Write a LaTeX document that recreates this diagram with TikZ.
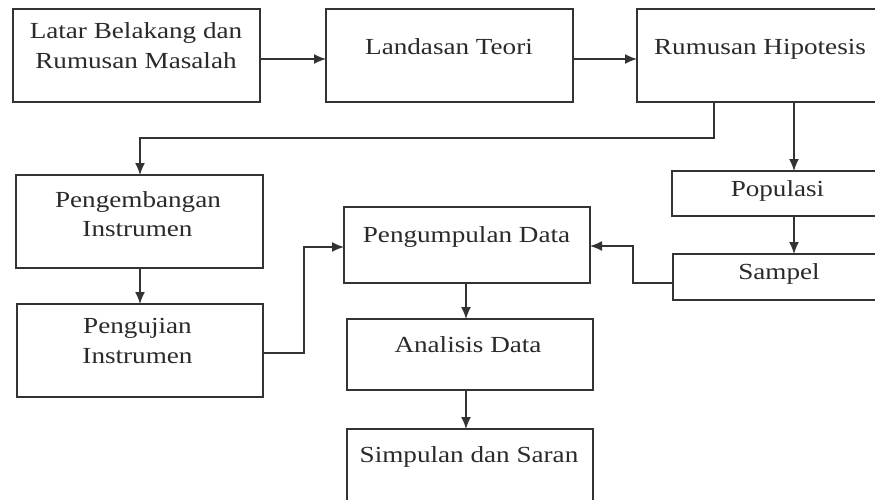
\documentclass[tikz,border=0pt]{standalone}
\usepackage{fontspec}
\setmainfont{Liberation Serif}[FakeStretch=1.18]
\usetikzlibrary{arrows.meta}
\definecolor{ink}{HTML}{333333}
\definecolor{txt}{HTML}{2A2A2A}
\begin{document}
\begin{tikzpicture}[x=1pt,y=-1pt,
  box/.style={draw=ink, line width=1.5pt, rectangle, inner sep=0pt, outer sep=0pt, fill=none},
  lbl/.style={anchor=base, inner sep=0pt, text=txt, font=\fontsize{23}{27}\selectfont},
  arr/.style={draw=ink, line width=1.5pt, -{Latex[length=12pt,width=10pt]}}]
\useasboundingbox[fill=white] (0,0) rectangle (875,499);
% boxes
\node[box, minimum width=247pt, minimum height=93pt] (b1) at (136.5,55.5) {};
\node[box, minimum width=247pt, minimum height=93pt] (b2) at (449.5,55.5) {};
\node[box, minimum width=246pt, minimum height=93pt] (b3) at (760,55.5) {};
\node[box, minimum width=247pt, minimum height=93pt] (b4) at (139.5,221.5) {};
\node[box, minimum width=246pt, minimum height=93pt] (b5) at (140,350.5) {};
\node[box, minimum width=211pt, minimum height=45pt] (pop) at (777.5,193.5) {};
\node[box, minimum width=210pt, minimum height=46pt] (sam) at (778,277) {};
\node[box, minimum width=246pt, minimum height=76pt] (pd) at (467,245) {};
\node[box, minimum width=246pt, minimum height=71pt] (ad) at (470,354.5) {};
\node[box, minimum width=246pt, minimum height=81pt] (ss) at (470,469.5) {};
% texts
\node[lbl] (t1a) at (136,38) {Latar Belakang dan};
\node[lbl] (t1b) at (136,68) {Rumusan Masalah};
\node[lbl] (t2) at (449,54) {Landasan Teori};
\node[lbl] (t3) at (760,54) {Rumusan Hipotesis};
\node[lbl] (t4a) at (138,207) {Pengembangan};
\node[lbl] (t4b) at (137.5,236) {Instrumen};
\node[lbl] (t5a) at (137.5,333) {Pengujian};
\node[lbl] (t5b) at (137.5,363) {Instrumen};
\node[lbl] (tpop) at (777.5,196) {Populasi};
\node[lbl] (tsam) at (779,279) {Sampel};
\node[lbl] (tpd) at (466.5,242) {Pengumpulan Data};
\node[lbl] (tad) at (468,352) {Analisis Data};
\node[lbl] (tss) at (469,462) {Simpulan dan Saran};
% helper coordinates
\coordinate (r1) at (0,59);
\coordinate (k1) at (714,138);
\coordinate (k2) at (140,138);
\coordinate (v1) at (794,0);
\coordinate (h1) at (0,353);
\coordinate (k3) at (304,247);
\coordinate (h2) at (0,283);
\coordinate (k4) at (633,246);
\coordinate (v2) at (466,0);
% connectors
\draw[arr] (b1.east |- r1) -- (b2.west |- r1);
\draw[arr] (b2.east |- r1) -- (b3.west |- r1);
\draw[arr] (b3.south -| k1) -- (k1) -- (k2) -- (b4.north -| k2);
\draw[arr] (b3.south -| v1) -- (pop.north -| v1);
\draw[arr] (pop.south -| v1) -- (sam.north -| v1);
\draw[arr] (b4.south -| k2) -- (b5.north -| k2);
\draw[arr] (b5.east |- h1) -- (k3 |- h1) -- (k3) -- (pd.west |- k3);
\draw[arr] (sam.west |- h2) -- (k4 |- h2) -- (k4) -- (pd.east |- k4);
\draw[arr] (pd.south -| v2) -- (ad.north -| v2);
\draw[arr] (ad.south -| v2) -- (ss.north -| v2);
\end{tikzpicture}
\end{document}
